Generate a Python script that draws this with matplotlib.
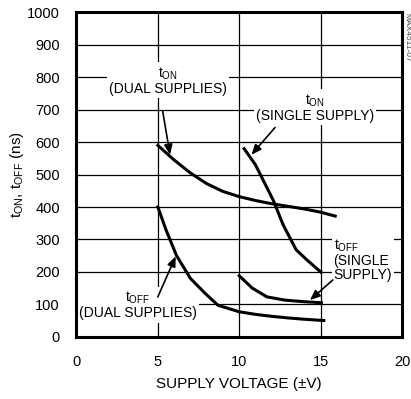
import matplotlib.pyplot as plt

plt.rcParams['font.family'] = ['Liberation Sans', 'DejaVu Sans']
plt.rcParams['mathtext.fontset'] = 'custom'
plt.rcParams['mathtext.rm'] = 'Liberation Sans'
plt.rcParams['mathtext.it'] = 'Liberation Sans'

# 数据
ton_dual_v = [5, 6, 7, 8, 9, 10, 11, 12, 13, 14, 15, 15.9]
ton_dual = [590, 545, 505, 472, 448, 432, 420, 410, 402, 394, 384, 372]

ton_single_v = [10.3, 11, 11.5, 12.1, 12.7, 13.5, 14.2, 15]
ton_single = [580, 530, 480, 420, 345, 268, 235, 200]

toff_dual_v = [5, 5.5, 6.15, 7, 7.9, 8.7, 10, 11, 12, 13, 14, 15.2]
toff_dual = [400, 330, 250, 180, 134, 97, 77, 69, 63, 58, 54, 50]

toff_single_v = [10, 10.8, 11.7, 12.8, 14, 15.05]
toff_single = [188, 150, 123, 113, 108, 105]

fig = plt.figure(figsize=(4.11, 3.99), dpi=100)
ax = fig.add_axes([0.186, 0.156, 0.792, 0.813])

ax.set_xlim(0, 20)
ax.set_ylim(0, 1000)
ax.set_xticks([0, 5, 10, 15, 20])
ax.set_yticks(range(0, 1001, 100))
ax.grid(True, color='black', linewidth=0.9)
ax.tick_params(length=0, labelsize=10.5)
ax.tick_params(axis='y', pad=12)
ax.tick_params(axis='x', pad=13)
for s in ax.spines.values():
    s.set_linewidth(2.2)

lw = 2.2
ax.plot(ton_dual_v, ton_dual, color='black', lw=lw, zorder=3)
ax.plot(ton_single_v, ton_single, color='black', lw=lw, zorder=3)
ax.plot(toff_dual_v, toff_dual, color='black', lw=lw, zorder=3)
ax.plot(toff_single_v, toff_single, color='black', lw=lw, zorder=3)

box = dict(facecolor='white', edgecolor='none', pad=1.5)
arr = dict(arrowstyle='-|>,head_length=0.6,head_width=0.25', color='black', lw=1.2, shrinkA=0, shrinkB=0)
fs = 10

ax.text(5.6, 788, '$\\mathrm{t_{ON}}$\n(DUAL SUPPLIES)', ha='center', va='center',
        fontsize=fs, bbox=box, zorder=2.2, linespacing=1.0)
ax.annotate('', xy=(5.75, 561), xytext=(5.3, 695), arrowprops=arr, zorder=5)

ax.text(14.65, 706, '$\\mathrm{t_{ON}}$\n(SINGLE SUPPLY)', ha='center', va='center',
        fontsize=fs, bbox=box, zorder=2.2, linespacing=1.0)
ax.annotate('', xy=(10.75, 561), xytext=(12.2, 645), arrowprops=arr, zorder=5)

ax.text(15.8, 236, '$\\mathrm{t_{OFF}}$\n(SINGLE\nSUPPLY)', ha='left', va='center',
        fontsize=fs, bbox=box, zorder=2.2, linespacing=1.0)
ax.annotate('', xy=(14.35, 113), xytext=(15.75, 175), arrowprops=arr, zorder=5)

ax.text(3.78, 97, '$\\mathrm{t_{OFF}}$\n(DUAL SUPPLIES)', ha='center', va='center',
        fontsize=fs, bbox=box, zorder=2.2, linespacing=1.0)
ax.annotate('', xy=(6.1, 248), xytext=(5.0, 123), arrowprops=arr, zorder=5)

ax.set_xlabel('SUPPLY VOLTAGE (±V)', fontsize=11, labelpad=6)
ax.set_ylabel('$\\mathrm{t_{ON}}$, $\\mathrm{t_{OFF}}$ (ns)', fontsize=11, labelpad=1)

fig.text(0.99, 0.968, 'MAX4511-07', rotation=270, ha='center', va='top',
         fontsize=6, color='#444444')

plt.savefig('out.png', dpi=100)
